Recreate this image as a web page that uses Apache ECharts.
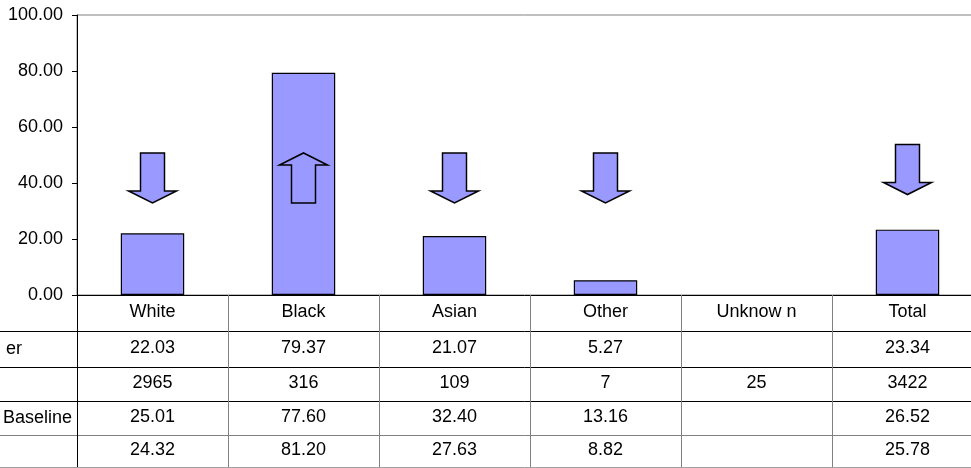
<!DOCTYPE html>
<html>
<head>
<meta charset="utf-8">
<script src="https://cdn.jsdelivr.net/npm/echarts@6/dist/echarts.min.js"></script>
<style>
  html, body { margin: 0; padding: 0; background: #fff; }
  #chart { width: 971px; height: 468px; }
</style>
</head>
<body>
<div id="chart"></div>
<script>
// Categories along the x axis
const categories = ['White', 'Black', 'Asian', 'Other', 'Unknow n', 'Total'];

// Table rows (first row is also the plotted bar series)
const rateValues = [22.03, 79.37, 21.07, 5.27, null, 23.34];
const countValues = [2965, 316, 109, 7, 25, 3422];
const baselineValues = [25.01, 77.60, 32.40, 13.16, null, 26.52];
const lastValues = [24.32, 81.20, 27.63, 8.82, null, 25.78];
const rowLabels = ['er', '', 'Baseline', ''];

// Y axis scale
const yMin = 0;
const yMax = 100;
const yStep = 20;

// Trend arrows: vertical level (axis units) and direction per category
const arrowLevels = [41.8, 41.8, 41.8, 41.8, null, 44.8];
const arrowDirections = ['down', 'up', 'down', 'down', null, 'down'];

// ---- layout ----
const FONT = 'Liberation Sans, Arial, sans-serif';
const FS = 18;
const GRID_LEFT = 77;
const GRID_TOP = 15;
const GRID_BOTTOM = 173;
const GRID_WIDTH = 906;                        // plot runs past the right edge
const CHART_H = 468;
const AXIS_Y = CHART_H - GRID_BOTTOM;          // x-axis line
const ROW_HEIGHTS = [36, 36, 34, 34, 32];      // header row + 4 data rows
const FILL = '#9999FF';

const fmt2 = v => (v === null || v === undefined) ? '' : v.toFixed(2);
const fmt0 = v => (v === null || v === undefined) ? '' : String(v);

const tableRows = [
  rateValues.map(fmt2),
  countValues.map(fmt0),
  baselineValues.map(fmt2),
  lastValues.map(fmt2)
];
const rowLineColors = ['#000', '#000', '#000', '#808080'];

// offsets of each row's top edge below the x-axis line
const rowOffsets = [];
{
  let acc = 0;
  for (const h of ROW_HEIGHTS) { rowOffsets.push(acc); acc += h; }
  rowOffsets.push(acc);
}

const xAxes = [{
  type: 'category',
  data: categories,
  position: 'bottom',
  offset: 0,
  axisLine: { show: true, lineStyle: { color: '#000', width: 1 } },
  axisTick: { show: true, interval: 0, alignWithLabel: false, length: ROW_HEIGHTS[0], lineStyle: { color: '#808080', width: 1 } },
  axisLabel: {
    interval: 0, margin: -1, lineHeight: ROW_HEIGHTS[0],
    fontSize: FS, fontFamily: FONT, color: '#000'
  }
}];

tableRows.forEach((row, i) => {
  xAxes.push({
    type: 'category',
    data: categories,
    position: 'bottom',
    offset: rowOffsets[i + 1],
    axisLine: { show: true, lineStyle: { color: rowLineColors[i], width: 1 } },
    axisTick: { show: true, interval: 0, alignWithLabel: false, length: ROW_HEIGHTS[i + 1], lineStyle: { color: '#808080', width: 1 } },
    axisLabel: {
      interval: 0, margin: -1, lineHeight: ROW_HEIGHTS[i + 1],
      fontSize: FS, fontFamily: FONT, color: '#000',
      formatter: (v, idx) => row[idx]
    }
  });
});

// bottom border of the table
xAxes.push({
  type: 'category',
  data: categories,
  position: 'bottom',
  offset: rowOffsets[rowOffsets.length - 1],
  axisLine: { show: true, lineStyle: { color: '#a0a0a0', width: 1 } },
  axisTick: { show: false },
  axisLabel: { show: false }
});

// arrow glyph pointing down; rotated 180° for up
const ARROW_PATH = 'path://M12,0L36,0L36,38L48,38L24,50L0,38L12,38Z';
const arrowData = arrowLevels.map((lv, i) => {
  if (lv === null) return null;
  return {
    value: [categories[i], lv],
    symbolRotate: arrowDirections[i] === 'up' ? 180 : 0
  };
}).filter(Boolean);

// graphic: row-label area lines, left border and row label texts
const graphics = [];
graphics.push({
  type: 'line', z: 100,
  shape: { x1: GRID_LEFT + 0.5, y1: AXIS_Y, x2: GRID_LEFT + 0.5, y2: AXIS_Y + rowOffsets[rowOffsets.length - 1] },
  style: { stroke: '#000', lineWidth: 1 }
});
for (let i = 1; i < rowOffsets.length; i++) {
  const y = AXIS_Y + rowOffsets[i] + 0.5;
  graphics.push({
    type: 'line', z: 100,
    shape: { x1: 0, y1: y, x2: GRID_LEFT, y2: y },
    style: { stroke: i >= 4 ? (i === 5 ? '#a0a0a0' : '#808080') : '#000', lineWidth: 1 }
  });
}
const labelRight = [22, 0, 72, 0];
rowLabels.forEach((t, i) => {
  if (!t) return;
  const yMid = AXIS_Y + rowOffsets[i + 1] + ROW_HEIGHTS[i + 1] / 2;
  graphics.push({
    type: 'text', z: 100,
    x: labelRight[i], y: yMid,
    style: {
      text: t, fill: '#000', font: FS + 'px ' + FONT,
      textAlign: 'right', textVerticalAlign: 'middle'
    }
  });
});

const chart = echarts.init(document.getElementById('chart'), null, { renderer: 'canvas' });
chart.setOption({
  animation: false,
  backgroundColor: '#fff',
  grid: {
    left: GRID_LEFT, width: GRID_WIDTH, top: GRID_TOP, bottom: GRID_BOTTOM,
    containLabel: false, outerBoundsMode: 'none',
    show: true, borderColor: '#808080', borderWidth: 1, backgroundColor: 'transparent'
  },
  xAxis: xAxes,
  yAxis: {
    type: 'value',
    min: yMin, max: yMax, interval: yStep,
    axisLine: { show: true, lineStyle: { color: '#000' } },
    axisTick: { show: true, length: 5, lineStyle: { color: '#000' } },
    splitLine: { show: false },
    axisLabel: {
      margin: 14, fontSize: FS, fontFamily: FONT, color: '#000',
      formatter: v => v.toFixed(2)
    }
  },
  series: [
    {
      type: 'bar',
      xAxisIndex: 0,
      data: rateValues,
      barWidth: '42%',
      itemStyle: { color: FILL, borderColor: '#000', borderWidth: 1.2 }
    },
    {
      type: 'scatter',
      xAxisIndex: 0,
      data: arrowData,
      symbol: ARROW_PATH,
      symbolSize: [48, 50],
      itemStyle: { color: FILL, borderColor: '#000', borderWidth: 1.5, opacity: 1 },
      z: 5
    }
  ],
  graphic: graphics
});
</script>
</body>
</html>
